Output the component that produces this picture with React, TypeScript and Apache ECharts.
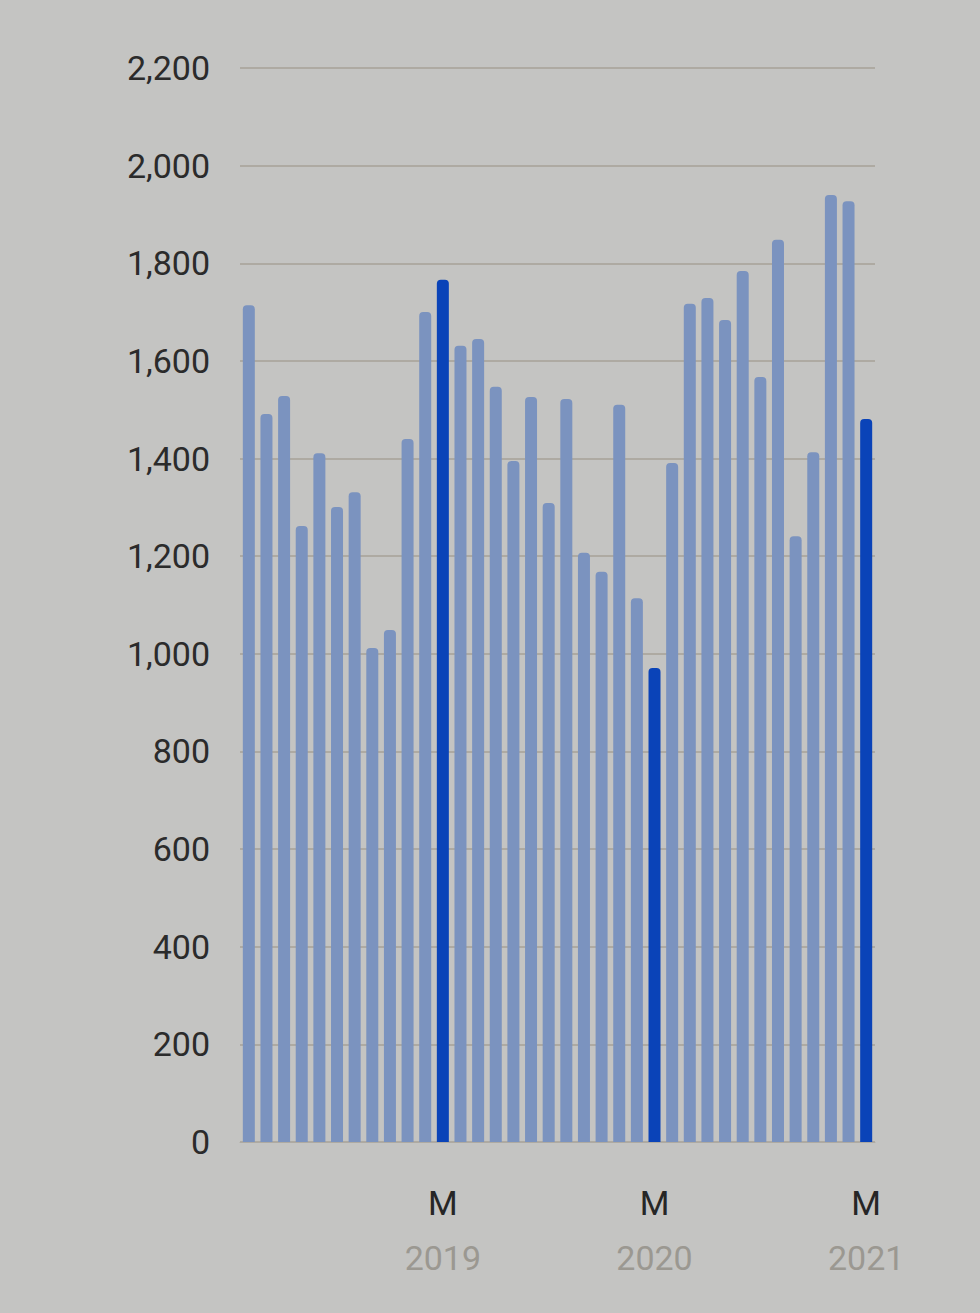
import React, { useEffect, useRef } from "react";
import * as echarts from "echarts";

const months = [
  "Jun 2018", "Jul 2018", "Aug 2018", "Sep 2018", "Oct 2018", "Nov 2018", "Dec 2018",
  "Jan 2019", "Feb 2019", "Mar 2019", "Apr 2019", "May 2019",
  "Jun 2019", "Jul 2019", "Aug 2019", "Sep 2019", "Oct 2019", "Nov 2019", "Dec 2019",
  "Jan 2020", "Feb 2020", "Mar 2020", "Apr 2020", "May 2020",
  "Jun 2020", "Jul 2020", "Aug 2020", "Sep 2020", "Oct 2020", "Nov 2020", "Dec 2020",
  "Jan 2021", "Feb 2021", "Mar 2021", "Apr 2021", "May 2021",
];

const values = [
  1714, 1491, 1528, 1262, 1411, 1301, 1331, 1012, 1049, 1440, 1700, 1766,
  1631, 1645, 1547, 1395, 1526, 1309, 1522, 1207, 1168, 1510, 1114, 971,
  1391, 1717, 1729, 1684, 1784, 1567, 1848, 1241, 1413, 1940, 1927, 1481,
];

const highlighted = ["May 2019", "May 2020", "May 2021"];

const yTicks = { min: 0, max: 2200, interval: 200 };

const LIGHT = "#7b93bf";
const DARK = "#0a43b8";

export default function App() {
  const ref = useRef<HTMLDivElement>(null);

  useEffect(() => {
    if (!ref.current) return;
    const chart = echarts.init(ref.current, null, { renderer: "svg" });
    chart.setOption({
      animation: false,
      backgroundColor: "#c4c4c2",
      textStyle: { fontFamily: "Roboto" },
      grid: { left: 240, top: 68, width: 635, height: 1074, containLabel: false },
      xAxis: {
        type: "category",
        data: months,
        axisLine: { show: true, lineStyle: { color: "#aeaaa2", width: 1 } },
        axisTick: { show: false },
        axisLabel: {
          interval: (i: number) => highlighted.includes(months[i]),
          margin: 33,
          formatter: (v: string) => `{m|${v.charAt(0)}}\n{y|${v.split(" ")[1]}}`,
          rich: {
            m: { fontSize: 34, color: "#262626", lineHeight: 55, fontFamily: "Roboto" },
            y: { fontSize: 34, color: "#9b9891", lineHeight: 55, fontFamily: "Roboto" },
          },
        },
      },
      yAxis: {
        type: "value",
        min: yTicks.min,
        max: yTicks.max,
        interval: yTicks.interval,
        axisLine: { show: false },
        axisTick: { show: false },
        splitLine: { lineStyle: { color: "#aeaaa2", width: 2 } },
        axisLabel: {
          margin: 30,
          fontSize: 34,
          color: "#2b2b2b",
          fontFamily: "Roboto",
          formatter: (v: number) => v.toLocaleString("en-US"),
        },
      },
      series: [
        {
          type: "bar",
          barWidth: 12,
          data: values.map((v, i) => ({
            value: v,
            itemStyle: {
              color: highlighted.includes(months[i]) ? DARK : LIGHT,
              borderRadius: [4, 4, 0, 0],
            },
          })),
        },
      ],
    });
    return () => chart.dispose();
  }, []);

  return (
    <div
      ref={ref}
      style={{
        position: "fixed",
        left: 0,
        top: 0,
        width: 980,
        height: 1313,
        boxSizing: "border-box",
      }}
    />
  );
}
